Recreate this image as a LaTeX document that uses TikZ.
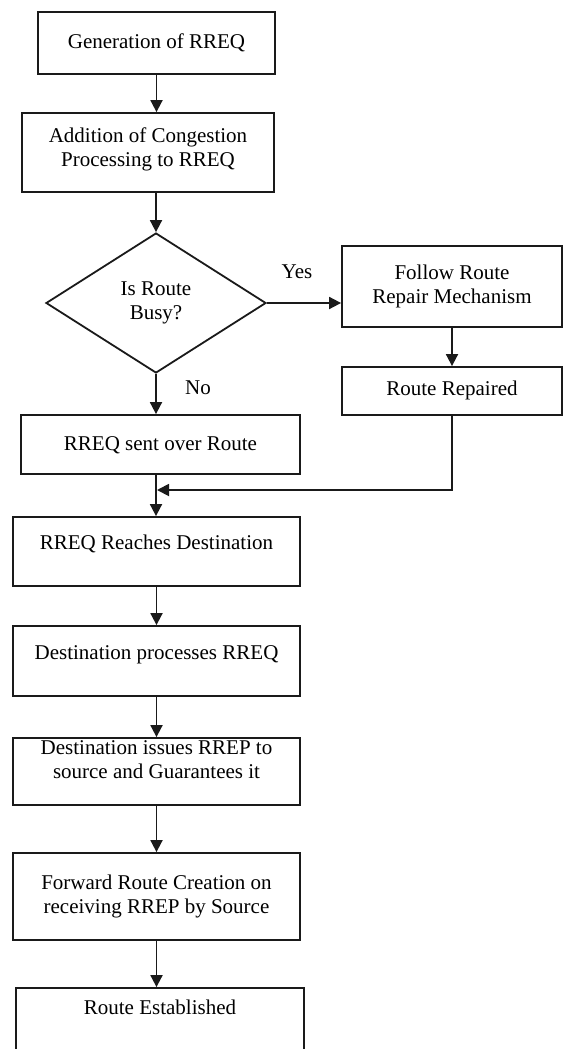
\documentclass[tikz,border=0pt]{standalone}
\usepackage{fontspec}
\setmainfont{Liberation Serif}
\usetikzlibrary{positioning,shapes.geometric,arrows.meta}
\definecolor{flowline}{HTML}{1A1A1A}

\begin{document}
\begin{tikzpicture}[x=1pt, y=-1pt,
  every node/.style={font=\fontsize{21}{24}\selectfont},
  stepbox/.style={draw=flowline, line width=1.8pt, inner sep=2pt, align=center},
  oneline/.style={text height=15pt, text depth=#1},
  decide/.style={draw=flowline, line width=1.8pt, diamond, aspect=1.57, inner sep=0pt, minimum width=220pt, minimum height=140pt, align=center},
  flow/.style={-{Triangle[length=12pt,width=12pt]}, draw=flowline, line width=1.8pt}
]
  \useasboundingbox (0,0) rectangle (564,1049);
  \clip (0,0) rectangle (564,1049);

  \node[stepbox, minimum width=237pt, minimum height=62pt, oneline=4pt] (gen) at (156.5,43) {Generation of RREQ};
  \node[stepbox, minimum width=252pt, minimum height=79pt, text depth=11pt] (addcp) at (148,152.5) {Addition of Congestion\\Processing to RREQ};
  \node[decide] (busy) at (156,303) {Is Route\\Busy?};
  \node[stepbox, minimum width=220pt, minimum height=81pt] (repair) at (452,286.5) {Follow Route\\Repair Mechanism};
  \node[stepbox, minimum width=220pt, minimum height=48pt, oneline=7pt] (repaired) at (452,391) {Route Repaired};
  \node[stepbox, minimum width=279pt, minimum height=59pt, oneline=4pt] (sent) at (160.5,444.5) {RREQ sent over Route};
  \node[stepbox, minimum width=287pt, minimum height=69pt, oneline=20pt] (reach) at (156.5,551.5) {RREQ Reaches Destination};
  \node[stepbox, minimum width=287pt, minimum height=70pt, oneline=19pt] (proc) at (156.5,661) {Destination processes RREQ};
  \node[stepbox, minimum width=287pt, minimum height=67pt, text depth=23pt] (issue) at (156.5,771.5) {Destination issues RREP to\\source and Guarantees it};
  \node[stepbox, minimum width=287pt, minimum height=87pt] (fwd) at (156.5,896.5) {Forward Route Creation on\\receiving RREP by Source};
  \node[stepbox, minimum width=288pt, minimum height=100pt, oneline=63pt] (est) at (160,1038) {Route Established};

  \node (yes) at (297,272) {Yes};
  \node (no) at (198,388) {No};

  \draw[flow] (gen) -- (gen |- addcp.north);
  \draw[flow] (addcp.south -| busy.north) -- (busy.north);
  \draw[flow] (busy.east) -- (busy.east -| repair.west);
  \draw[flow] (repair) -- (repaired);
  \draw[flow] (busy.south) -- (busy.south |- sent.north);
  \draw[flow] (sent.south -| busy.south) -- (busy.south |- reach.north);
  \coordinate (merge) at (157,490);
  \draw[flow] (repaired.south) |- (merge);
  \draw[flow] (reach) -- (proc);
  \draw[flow] (proc) -- (issue);
  \draw[flow] (issue) -- (fwd);
  \draw[flow] (fwd.south) -- (fwd.south |- est.north);
\end{tikzpicture}
\end{document}
